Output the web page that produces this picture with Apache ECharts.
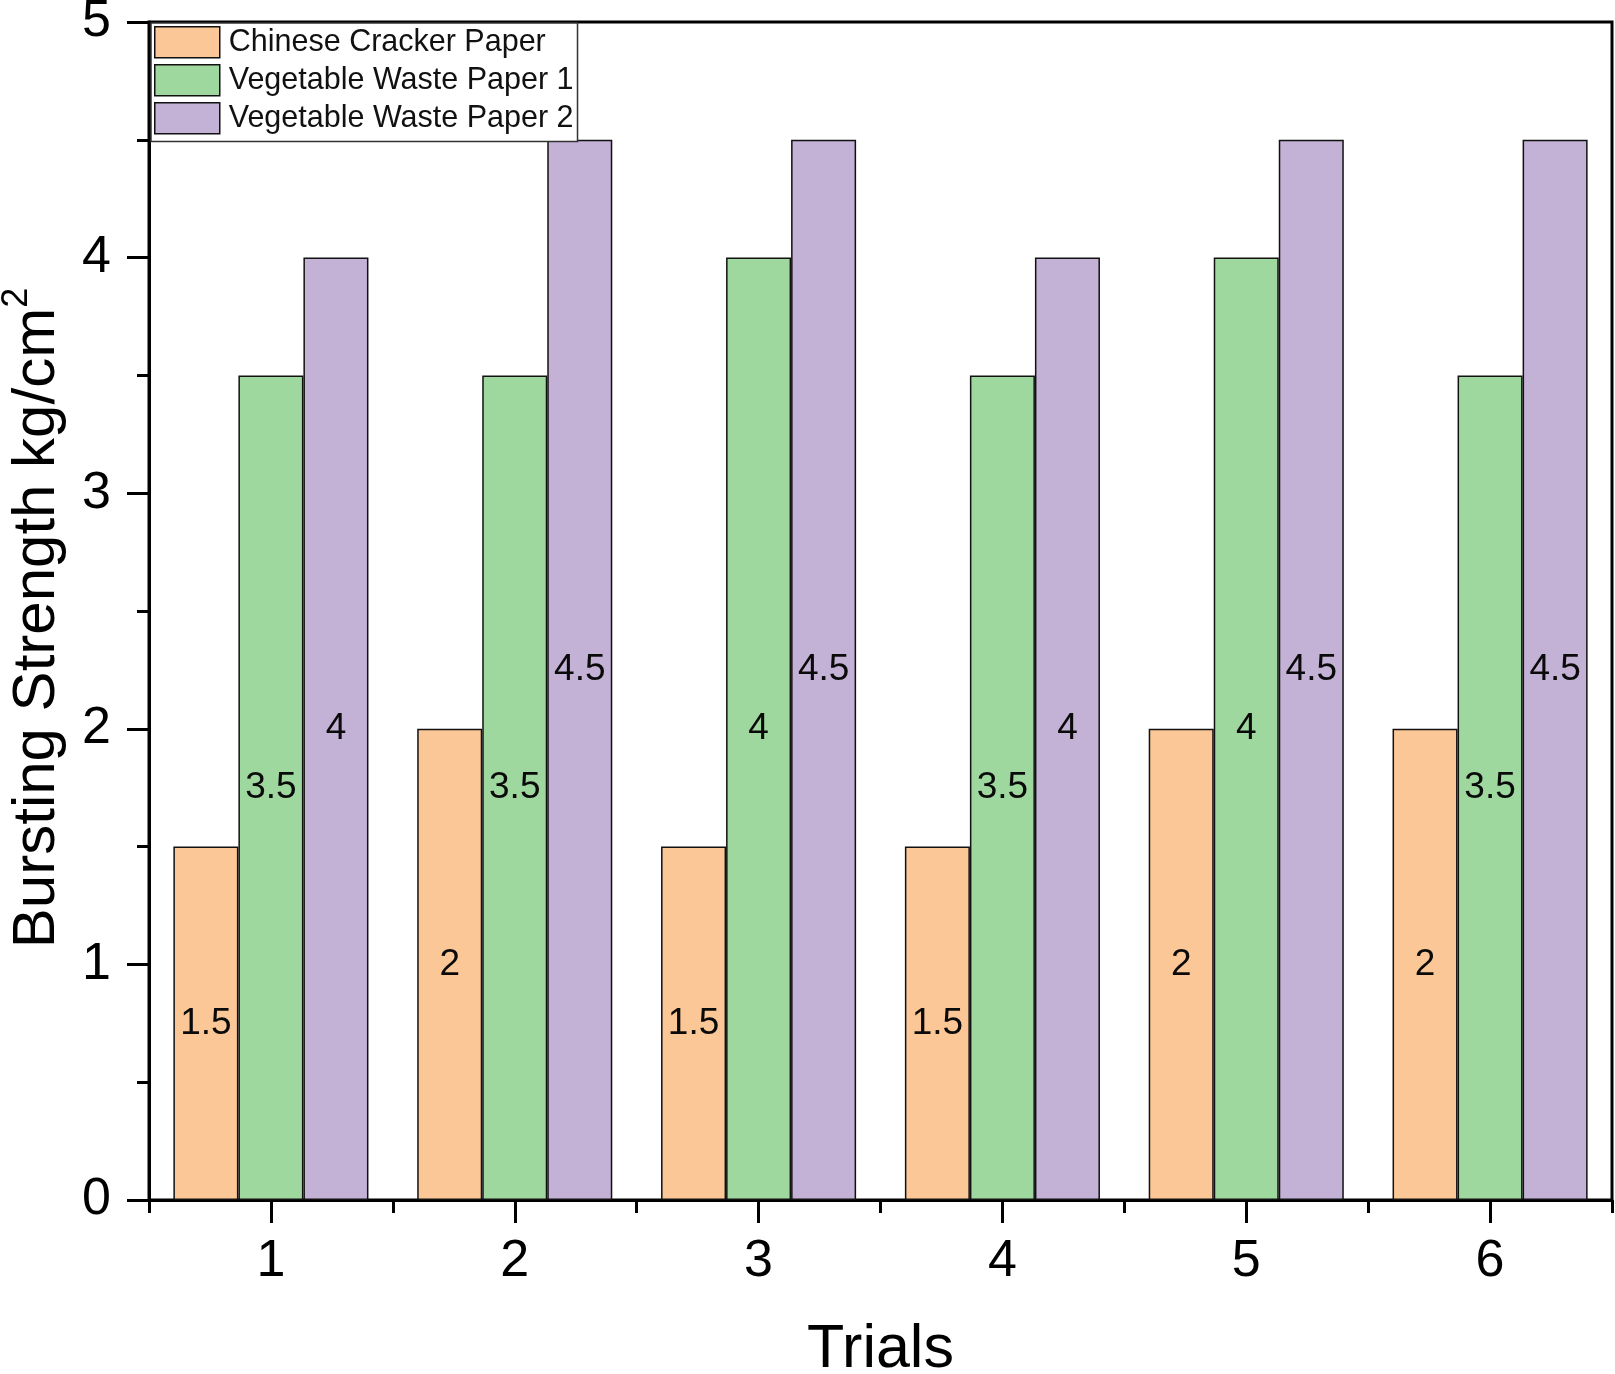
<!DOCTYPE html>
<html>
<head>
<meta charset="utf-8">
<script src="https://cdn.jsdelivr.net/npm/echarts@6/dist/echarts.min.js"></script>
<style>
html,body{margin:0;padding:0;background:#fff;overflow:hidden;}
#chart{width:1615px;height:1374px;}
</style>
</head>
<body>
<div id="chart"></div>
<script>
const categories = ['1', '2', '3', '4', '5', '6'];
const seriesNames = ['Chinese Cracker Paper', 'Vegetable Waste Paper 1', 'Vegetable Waste Paper 2'];
const chineseCracker = [1.5, 2, 1.5, 1.5, 2, 2];
const vegWaste1 = [3.5, 3.5, 4, 3.5, 4, 3.5];
const vegWaste2 = [4, 4.5, 4.5, 4, 4.5, 4.5];
const colors = ['#FBC796', '#9ED89E', '#C3B1D6'];
const yTicks = { min: 0, max: 5, interval: 1 };

const FONT = "'Liberation Sans', Arial, sans-serif";
const chart = echarts.init(document.getElementById('chart'), null, { renderer: 'canvas' });

function barSeries(name, data, color) {
  return {
    name: name,
    type: 'bar',
    data: data,
    barGap: '0%',
    barCategoryGap: '20%',
    itemStyle: { color: color, borderColor: '#111', borderWidth: 1.5 },
    label: {
      show: true,
      position: 'inside',
      fontSize: 37,
      fontFamily: FONT,
      color: '#0a0a0a'
    },
    emphasis: { disabled: true }
  };
}

const option = {
  backgroundColor: '#fff',
  animation: false,
  grid: {
    left: 149, right: 3, top: 22, bottom: 174,
    outerBoundsMode: 'none',
    containLabel: false,
    show: true, borderColor: '#000', borderWidth: 3, backgroundColor: 'transparent'
  },
  legend: {
    orient: 'vertical',
    left: 151, top: 23,
    itemWidth: 65, itemHeight: 31, itemGap: 5.5,
    padding: [3, 4, 7, 3],
    borderColor: '#333', borderWidth: 1.5,
    backgroundColor: '#fff',
    icon: 'rect',
    itemStyle: { borderColor: '#111', borderWidth: 1.5 },
    textStyle: { fontSize: 30.5, fontFamily: FONT, color: '#111', padding: [0, 0, 0, 4] },
    data: seriesNames
  },
  xAxis: [
    {
      type: 'category',
      data: categories,
      position: 'bottom',
      name: 'Trials',
      nameLocation: 'middle',
      nameGap: 120,
      nameTextStyle: { fontSize: 61, fontFamily: FONT, color: '#000' },
      axisLine: { show: true, lineStyle: { color: '#000', width: 3 } },
      axisTick: { show: true, alignWithLabel: true, length: 23, lineStyle: { color: '#000', width: 3 } },
      axisLabel: { fontSize: 52, fontFamily: FONT, color: '#000', margin: 36 },
      splitLine: { show: false }
    },
    {
      type: 'category',
      data: categories,
      position: 'bottom',
      axisLine: { show: false },
      axisTick: { show: true, alignWithLabel: false, length: 13, lineStyle: { color: '#000', width: 3 } },
      axisLabel: { show: false },
      splitLine: { show: false }
    }
  ],
  yAxis: {
    type: 'value',
    min: yTicks.min, max: yTicks.max, interval: yTicks.interval,
    name: '{a|Bursting Strength kg/cm}{s|2}',
    nameLocation: 'middle',
    nameGap: 82,
    nameTextStyle: {
      fontFamily: FONT, color: '#000',
      padding: [0, 14, 0, 0],
      rich: {
        a: { fontSize: 60, fontFamily: FONT, color: '#000', verticalAlign: 'bottom', padding: [8, 0, 0, 0] },
        s: { fontSize: 36, fontFamily: FONT, color: '#000', verticalAlign: 'top' }
      }
    },
    axisLine: { show: true, lineStyle: { color: '#000', width: 3 } },
    axisTick: { show: true, length: 22, lineStyle: { color: '#000', width: 3 } },
    minorTick: { show: true, splitNumber: 2, length: 12, lineStyle: { color: '#000', width: 3 } },
    axisLabel: { fontSize: 52, fontFamily: FONT, color: '#000', margin: 38 },
    splitLine: { show: false }
  },
  series: [
    barSeries(seriesNames[0], chineseCracker, colors[0]),
    barSeries(seriesNames[1], vegWaste1, colors[1]),
    barSeries(seriesNames[2], vegWaste2, colors[2])
  ]
};
chart.setOption(option);
</script>
</body>
</html>
